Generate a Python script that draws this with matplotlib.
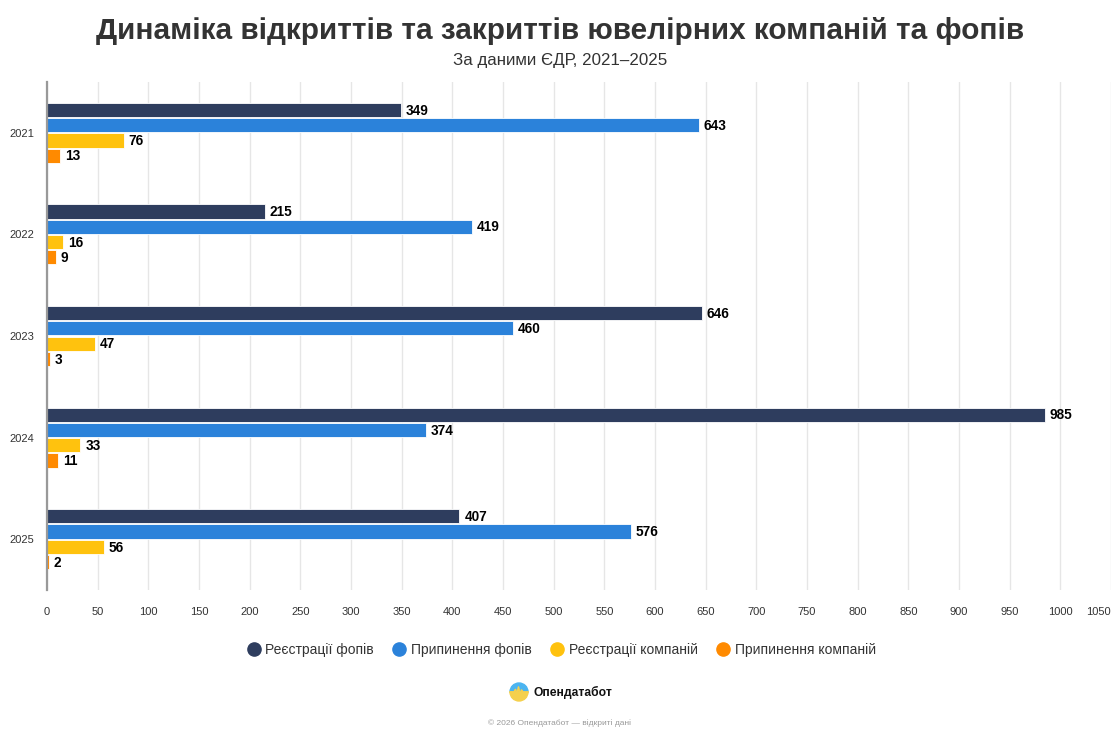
import matplotlib
matplotlib.use("Agg")
import matplotlib.pyplot as plt
from matplotlib.lines import Line2D
from matplotlib.patches import Wedge
import numpy as np

plt.rcParams['font.family'] = ['Liberation Sans', 'DejaVu Sans']

years = ["2021", "2022", "2023", "2024", "2025"]
series_names = ["Реєстрації фопів", "Припинення фопів", "Реєстрації компаній", "Припинення компаній"]
reg_fop = [349, 215, 646, 985, 407]
stop_fop = [643, 419, 460, 374, 576]
reg_comp = [76, 16, 47, 33, 56]
stop_comp = [13, 9, 3, 11, 2]
colors = ["#2E3D5E", "#2B82DA", "#FFC20E", "#FF8A00"]
x_ticks = list(range(0, 1051, 50))

W, H = 1120, 739
fig = plt.figure(figsize=(W / 100, H / 100), dpi=100)
ax = fig.add_axes([47 / W, 1 - 590 / H, (1111 - 47) / W, (590 - 82) / H])

y = np.arange(len(years))
offsets = [-0.226, -0.076, 0.076, 0.226]
bar_h = 0.14
all_series = [reg_fop, stop_fop, reg_comp, stop_comp]
for vals, off, col, name in zip(all_series, offsets, colors, series_names):
    bars = ax.barh(y + off, vals, height=bar_h, color=col, edgecolor='white',
                   linewidth=0.6, label=name, zorder=3)
    for b, v in zip(bars, vals):
        ax.annotate(str(v), (b.get_width(), b.get_y() + b.get_height() / 2),
                    xytext=(3.5, -0.5), textcoords='offset points', va='center',
                    ha='left', fontsize=9.8, fontweight='bold', color='#000000',
                    zorder=4)

ax.set_xlim(0, 1050)
ax.set_ylim(len(years) - 0.5, -0.5)
ax.set_yticks(y)
ax.set_yticklabels(years, fontsize=8, color='#333333')
ax.set_xticks(x_ticks)
ax.set_xticklabels([str(t) for t in x_ticks], fontsize=8, color='#333333')
labels = ax.get_xticklabels()
labels[-1].set_horizontalalignment('right')
ax.tick_params(axis='x', length=0, pad=12)
ax.tick_params(axis='y', length=0, pad=9)
ax.grid(axis='x', color='#e6e6e6', linewidth=1, zorder=0)
for s in ['top', 'right', 'bottom']:
    ax.spines[s].set_visible(False)
ax.spines['left'].set_color('#999999')
ax.spines['left'].set_linewidth(1.6)
ax.spines['left'].set_zorder(5)

fig.text(0.5, 1 - 31 / H, "Динаміка відкриттів та закриттів ювелірних компаній та фопів",
         ha='center', va='center', fontsize=21.4, fontweight='bold', color='#333333')
fig.text(0.5, 1 - 61 / H, "За даними ЄДР, 2021–2025", ha='center', va='center',
         fontsize=12.2, color='#333333')

handles = [Line2D([0], [0], marker='o', linestyle='none', markersize=9.5,
                  markerfacecolor=c, markeredgecolor=c) for c in colors]
fig.legend(handles, series_names, loc='center', bbox_to_anchor=(0.5, 1 - 650 / H),
           ncol=4, frameon=False, fontsize=10, handletextpad=0.15, handlelength=1.4,
           columnspacing=1.12, labelcolor='#333333')

# logo
lax = fig.add_axes([(519 - 10) / W, 1 - (692 + 10) / H, 20 / W, 20 / H])
lax.set_xlim(-1, 1)
lax.set_ylim(-1, 1)
lax.set_aspect('equal')
lax.axis('off')
lax.add_patch(Wedge((0, 0), 0.9, 0, 180, color='#4BB4F0'))
lax.add_patch(Wedge((0, 0), 0.9, 180, 360, color='#F5D04C'))
wx = [-0.9, -0.5, -0.35, -0.2, -0.05, 0.1, 0.25, 0.4, 0.9]
wy = [0.0, 0.0, 0.25, -0.2, 0.5, -0.3, 0.2, 0.0, 0.0]
lax.plot(wx, wy, color='#F5D04C', linewidth=1.2)
fig.text(533 / W, 1 - 692 / H, "Опендатабот", ha='left', va='center', fontsize=8.7,
         fontweight='bold', color='#111111')
fig.text(0.5, 1 - 723 / H, "© 2026 Опендатабот — відкриті дані", ha='center',
         va='center', fontsize=6, color='#999999')

fig.savefig("out.png", dpi=100, facecolor='white')
